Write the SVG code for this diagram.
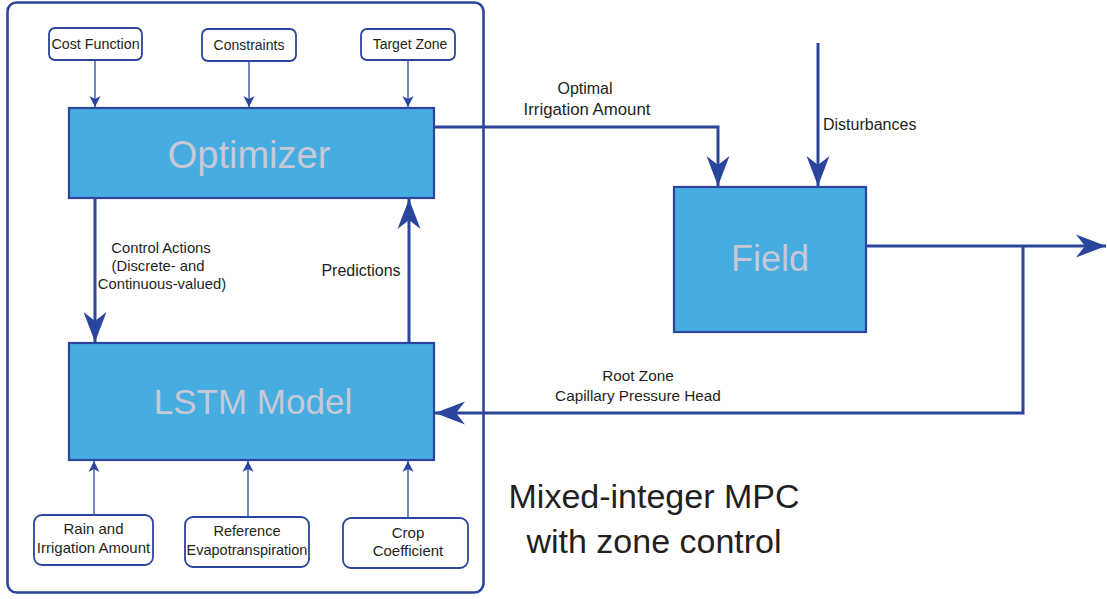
<svg xmlns="http://www.w3.org/2000/svg" width="1107" height="599" viewBox="0 0 1107 599">
<style>
.small{fill:#fff;stroke:#2c459c;stroke-width:1.8}
.blk{fill:#47ade1;stroke:#2c459c;stroke-width:2.2}
.t{font-family:"Liberation Sans",Arial,sans-serif;font-size:14px;fill:#231f20;text-anchor:middle}
.l{font-family:"Liberation Sans",Arial,sans-serif;font-size:16px;fill:#231f20;text-anchor:middle}
.big{font-family:"Liberation Sans",Arial,sans-serif;font-size:36px;fill:#c6c8d6;text-anchor:middle}
.title{font-family:"Liberation Sans",Arial,sans-serif;font-size:34px;fill:#231f20;text-anchor:middle}
.thin{fill:none;stroke:#2c459c;stroke-width:1.3}
.thick{fill:none;stroke:#2c459c;stroke-width:3}
</style>
<defs>
<marker id="sa" markerUnits="userSpaceOnUse" markerWidth="14" markerHeight="14" viewBox="-12 -7 14 14" refX="0" refY="0" orient="auto">
<path d="M0,0 L-11,-5.5 L-8,0 L-11,5.5 Z" fill="#2c459c"/>
</marker>
<marker id="ba" markerUnits="userSpaceOnUse" markerWidth="34" markerHeight="26" viewBox="-32 -13 34 26" refX="0" refY="0" orient="auto">
<path d="M0,0 L-30,-11.5 L-21,0 L-30,11.5 Z" fill="#2c459c"/>
</marker>
</defs>
<rect id="outer" x="7.5" y="2.5" width="476" height="590" rx="9" fill="none" stroke="#2c459c" stroke-width="2.6"/>
<g id="connectors">
<line class="thin" x1="95" y1="60" x2="95" y2="107" marker-end="url(#sa)"/>
<line class="thin" x1="249" y1="61" x2="249" y2="107" marker-end="url(#sa)"/>
<line class="thin" x1="408" y1="60" x2="408" y2="107" marker-end="url(#sa)"/>
<line class="thin" x1="94" y1="515" x2="94" y2="461" marker-end="url(#sa)"/>
<line class="thin" x1="248" y1="517" x2="248" y2="461" marker-end="url(#sa)"/>
<line class="thin" x1="408" y1="518" x2="408" y2="461" marker-end="url(#sa)"/>
<line class="thick" x1="95" y1="199" x2="95" y2="342" marker-end="url(#ba)"/>
<line class="thick" x1="409" y1="342" x2="409" y2="199" marker-end="url(#ba)"/>
<polyline class="thick" points="435,127 718,127 718,186" marker-end="url(#ba)"/>
<line class="thick" x1="818" y1="43" x2="818" y2="186" marker-end="url(#ba)"/>
<line class="thick" x1="867" y1="246" x2="1106" y2="246" marker-end="url(#ba)"/>
<polyline class="thick" points="1023,246 1023,413 435,413" marker-end="url(#ba)"/>
</g>
<g id="cost"><rect class="small" x="49" y="28" width="93" height="32" rx="6"/><text class="t" x="95.5" y="49" style="font-size:14.3px">Cost Function</text></g>
<g id="constraints"><rect class="small" x="202" y="29" width="94" height="32" rx="6"/><text class="t" x="249" y="50">Constraints</text></g>
<g id="target"><rect class="small" x="361" y="29" width="94" height="31" rx="6"/><text class="t" x="410" y="49">Target Zone</text></g>
<g id="optimizer"><rect class="blk" x="69" y="108" width="365" height="90"/><text class="big" x="249" y="168" style="font-size:38px">Optimizer</text></g>
<g id="lstm"><rect class="blk" x="69" y="343" width="365" height="117"/><text class="big" x="253" y="414" style="font-size:35px">LSTM Model</text></g>
<g id="field"><rect class="blk" x="674" y="187" width="192" height="145"/><text class="big" x="770" y="271">Field</text></g>
<g id="rain"><rect class="small" x="34" y="515" width="119" height="50" rx="8"/><text class="t" x="93.5" y="534" style="font-size:15px">Rain and</text><text class="t" x="93.5" y="553" style="font-size:15px">Irrigation Amount</text></g>
<g id="ref"><rect class="small" x="185" y="517" width="124" height="50" rx="8"/><text class="t" x="247" y="536" style="font-size:14.5px">Reference</text><text class="t" x="247" y="555" style="font-size:14.5px">Evapotranspiration</text></g>
<g id="crop"><rect class="small" x="343" y="518" width="125" height="50" rx="8"/><text class="t" x="408" y="538" style="font-size:15px">Crop</text><text class="t" x="408" y="556" style="font-size:15px">Coefficient</text></g>
<g id="labels">
<text class="l" x="585" y="94">Optimal</text>
<text class="l" x="587" y="115" style="font-size:16.8px">Irrigation Amount</text>
<text class="l" x="823" y="130" style="text-anchor:start">Disturbances</text>
<text class="t" x="161" y="253" style="font-size:14.8px">Control Actions</text>
<text class="t" x="158" y="271" style="font-size:14.8px">(Discrete- and</text>
<text class="t" x="162" y="289" style="font-size:14.8px">Continuous-valued)</text>
<text class="l" x="361" y="276">Predictions</text>
<text class="l" x="638" y="381" style="font-size:15.3px">Root Zone</text>
<text class="l" x="638" y="401" style="font-size:15.3px">Capillary Pressure Head</text>
<text class="title" x="654" y="508">Mixed-integer MPC</text>
<text class="title" x="654" y="553">with zone control</text>
</g>
</svg>
